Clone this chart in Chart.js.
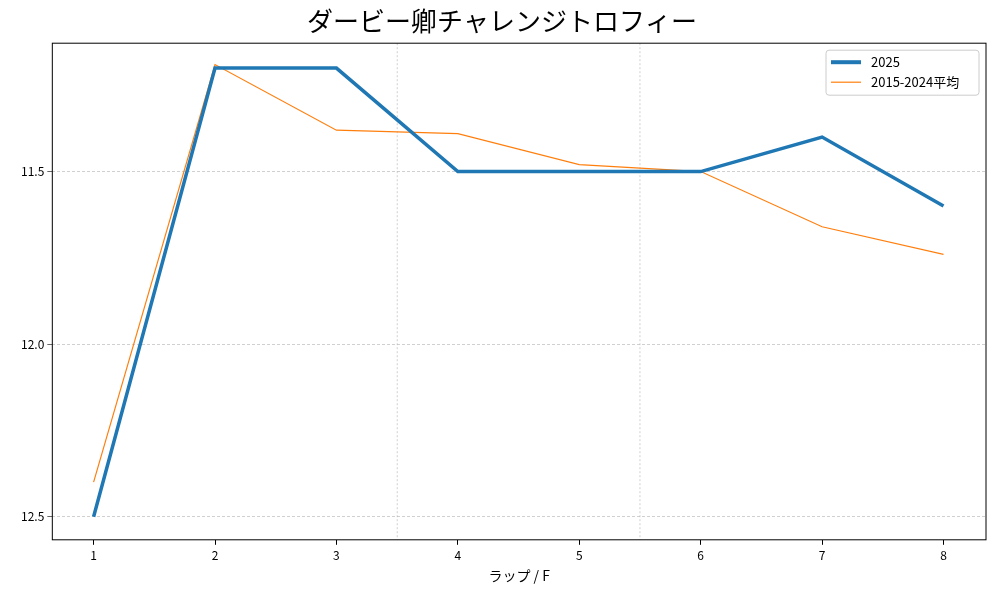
<!DOCTYPE html>
<html>
<head>
<meta charset="utf-8">
<script src="https://cdn.jsdelivr.net/npm/chart.js@4.4.0/dist/chart.umd.min.js"></script>
<style>
  body { margin: 0; background: #fff; }
  #wrap { width: 1000px; height: 600px; }
</style>
</head>
<body>
<div id="wrap"><canvas id="myChart"></canvas></div>
<script>
var laps = [1, 2, 3, 4, 5, 6, 7, 8];
var lap2025 = [12.5, 11.2, 11.2, 11.5, 11.5, 11.5, 11.4, 11.6];
var lapAvg = [12.4, 11.19, 11.38, 11.39, 11.48, 11.5, 11.66, 11.74];
var yTicks = [11.5, 12.0, 12.5];
var xGridAt = [3.5, 5.5];
var seriesNames = ['2025', '2015-2024平均'];

var FONT = '"Noto Sans CJK JP", "DejaVu Sans", sans-serif';

// vertical grid lines, frame and legend box drawn inside the plot area
var extras = {
    id: 'extras',
    beforeDatasetsDraw: function(chart) {
        var ctx = chart.ctx, a = chart.chartArea, x = chart.scales.x;
        ctx.save();
        ctx.strokeStyle = '#b0b0b0';
        ctx.lineWidth = 0.6;
        ctx.setLineDash([2, 2]);
        xGridAt.forEach(function(v) {
            var px = x.getPixelForValue(v);
            ctx.beginPath(); ctx.moveTo(px, a.top); ctx.lineTo(px, a.bottom); ctx.stroke();
        });
        ctx.restore();
    },
    afterDraw: function(chart) {
        var ctx = chart.ctx, a = chart.chartArea;
        ctx.save();
        ctx.strokeStyle = '#000';
        ctx.lineWidth = 1;
        ctx.strokeRect(a.left, a.top, a.right - a.left, a.bottom - a.top);
        var bx = a.right - 160, by = a.top + 7, bw = 153, bh = 45;
        ctx.fillStyle = 'rgba(255,255,255,0.85)';
        ctx.strokeStyle = '#cccccc';
        ctx.beginPath(); ctx.roundRect(bx, by, bw, bh, 3); ctx.fill(); ctx.stroke();
        var cols = ['#1f77b4', '#ff7f0e'], widths = [4, 1.2];
        ctx.font = '13px ' + FONT;
        ctx.textBaseline = 'middle';
        for (var i = 0; i < 2; i++) {
            var y = by + 12 + i * 20;
            ctx.strokeStyle = cols[i]; ctx.lineWidth = widths[i];
            ctx.beginPath(); ctx.moveTo(bx + 5, y); ctx.lineTo(bx + 35, y); ctx.stroke();
            ctx.fillStyle = '#000';
            ctx.fillText(seriesNames[i], bx + 45, y);
        }
        ctx.restore();
    }
};

var ctx = document.getElementById('myChart').getContext('2d');
var chart = new Chart(ctx, {
    type: 'line',
    data: {
        datasets: [{
            label: seriesNames[0],
            data: laps.map(function(l, i) { return {x: l, y: lap2025[i]}; }),
            borderColor: '#1f77b4',
            borderWidth: 3.5,
            pointRadius: 0,
            tension: 0
        }, {
            label: seriesNames[1],
            data: laps.map(function(l, i) { return {x: l, y: lapAvg[i]}; }),
            borderColor: '#ff7f0e',
            borderWidth: 1.2,
            pointRadius: 0,
            tension: 0
        }]
    },
    options: {
        responsive: true,
        maintainAspectRatio: false,
        animation: false,
        layout: { padding: { left: 18, right: 14, top: 0, bottom: 14 } },
        plugins: {
            legend: { display: false },
            tooltip: { enabled: false },
            title: {
                display: true,
                text: 'ダービー卿チャレンジトロフィー',
                color: '#000',
                font: { family: FONT, size: 26, weight: 'normal' },
                padding: { top: 6, bottom: 6 }
            }
        },
        scales: {
            x: {
                type: 'linear',
                min: 0.66, max: 8.35,
                afterBuildTicks: function(s) { s.ticks = laps.map(function(v) { return {value: v}; }); },
                grid: { display: true, drawOnChartArea: false, tickColor: '#000', tickLength: 5 },
                border: { display: false },
                ticks: { color: '#000', font: { family: FONT, size: 12 } },
                title: { display: true, text: 'ラップ / F', color: '#000', font: { family: FONT, size: 14 }, padding: 2 }
            },
            y: {
                reverse: true,
                min: 11.128, max: 12.567,
                afterBuildTicks: function(s) { s.ticks = yTicks.map(function(v) { return {value: v}; }); },
                grid: { color: '#b0b0b0', lineWidth: 0.6, tickColor: '#000', tickLength: 5 },
                border: { display: false, dash: [3, 2] },
                ticks: { color: '#000', font: { family: FONT, size: 12 }, callback: function(v) { return v.toFixed(1); } }
            }
        }
    },
    plugins: [extras]
});
</script>
</body>
</html>
